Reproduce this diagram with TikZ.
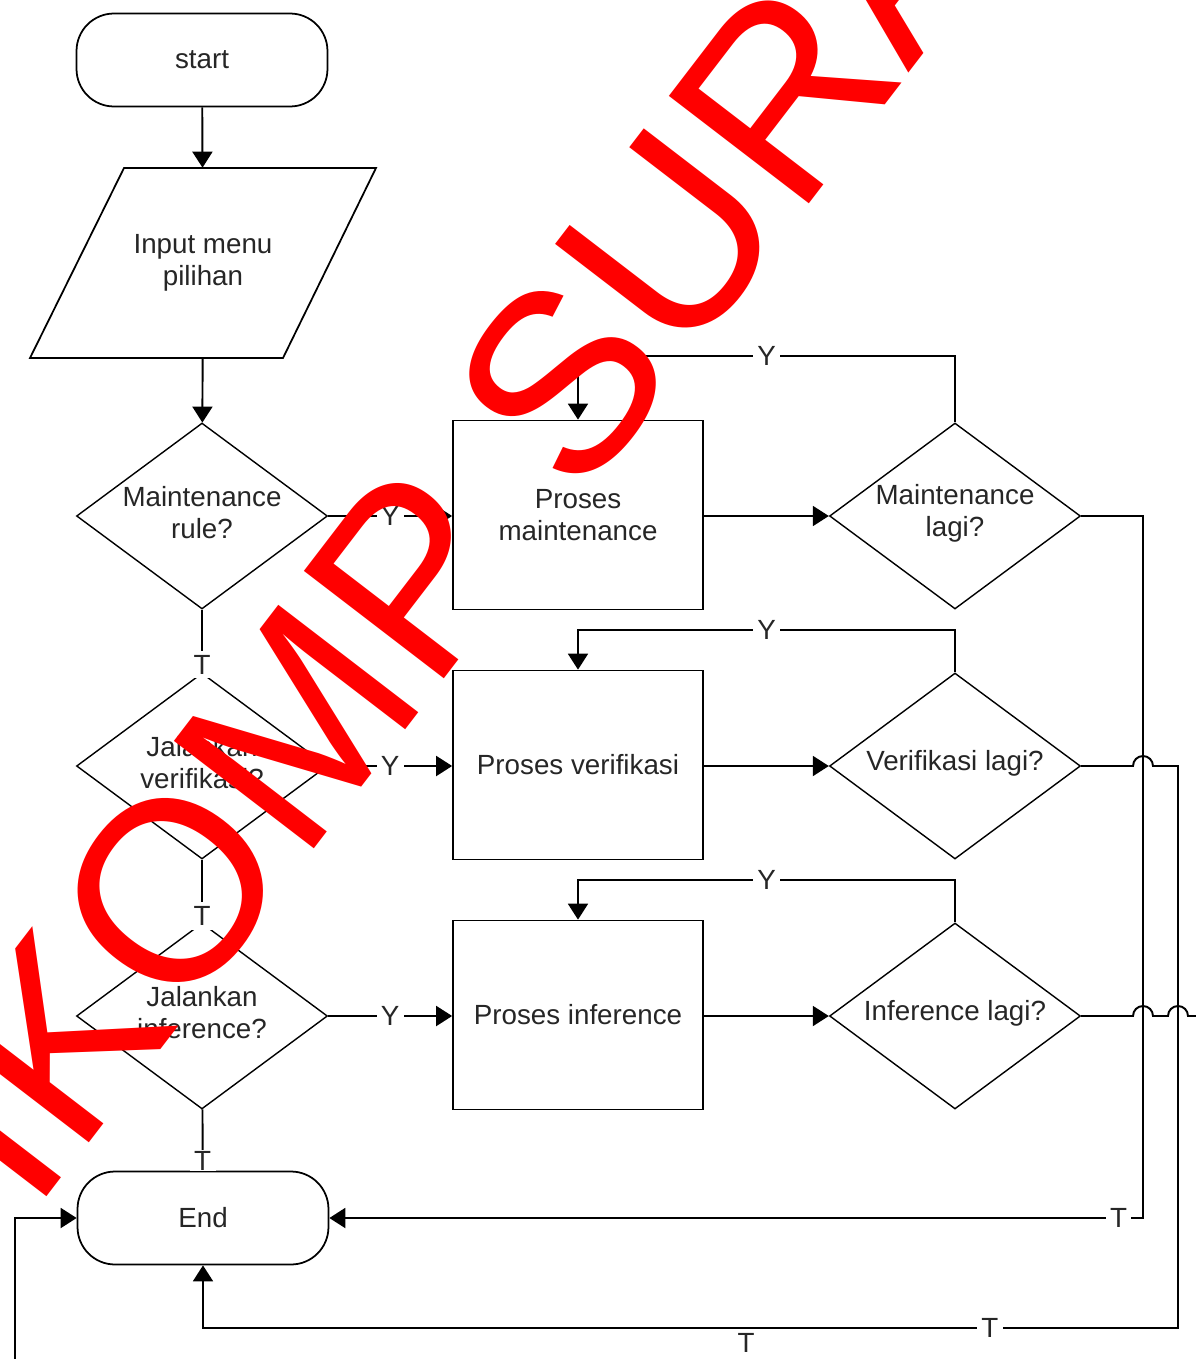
\documentclass[tikz,border=0pt]{standalone}
\usepackage{fontspec}
\setmainfont{Liberation Sans}
\newfontfamily\wmfont{Liberation Sans}
\usetikzlibrary{arrows.meta,shapes.geometric,calc}
\begin{document}
\begin{tikzpicture}[x=0.02cm,y=-0.02cm,
  font=\fontsize{15.8}{18.2}\selectfont,
  txt/.style={text=black!85},
  term/.style={txt, draw, line width=1pt, rounded corners=0.75cm, minimum width=5.02cm, minimum height=1.86cm, inner sep=0pt},
  proc/.style={txt, draw, line width=1pt, minimum width=5cm, minimum height=3.78cm, inner sep=0pt, align=center},
  dec/.style={diamond, draw, line width=0.8pt, minimum width=5.02cm, minimum height=3.72cm, inner sep=0pt},
  dectext/.style={label={[txt, align=center, yshift=0.06cm]center:#1}},
  lbl/.style={txt, fill=white, inner sep=2.5pt},
  conn/.style={line width=1.1pt},
  arr/.style={conn, -{Triangle[width=0.4cm,length=0.32cm]}},
]
\useasboundingbox (0,0) rectangle (1196,1359);
\clip (0,0) rectangle (1196,1359);

% main column
\node[term] (start) at (202,60) {start};
\node[txt, minimum width=4cm, minimum height=3.8cm, inner sep=0pt, align=center] (inp) at (203,263) {Input menu\\pilihan};
\draw[line width=1pt] (124,168) -- (376,168) -- (283,358) -- (30,358) -- cycle;
\node[dec, dectext={Maintenance\\rule?}] (d1) at (202,516) {};
\node[dec, dectext={Jalankan\\verifikasi?}] (d2) at (202,766) {};
\node[dec, dectext={Jalankan\\inference?}] (d3) at (202,1016) {};
\node[term] (end) at (203,1218) {End};

% process boxes
\node[proc] (p1) at (578,515) {Proses\\maintenance};
\node[proc] (p2) at (578,765) {Proses verifikasi};
\node[proc] (p3) at (578,1015) {Proses inference};

% repeat decisions
\node[dec, dectext={Maintenance\\lagi?}] (q1) at (955,516) {};
\node[dec, dectext={Verifikasi lagi?}] (q2) at (955,766) {};
\node[dec, dectext={Inference lagi?}] (q3) at (955,1016) {};

% main flow
\draw[arr] (start) -- (inp);
\draw[arr] (inp) -- (d1);
\draw[conn] (d1) -- node[lbl, pos=0.875] {T} (d2);
\draw[conn] (d2) -- node[lbl, pos=0.9] {T} (d3);
\draw[conn] (d3) -- node[lbl, inner ysep=0.5pt, pos=0.84] {T} (end);

% yes branches
\draw[arr] (d1.east) -- node[lbl] {Y} (d1.east -| p1.west);
\draw[arr] (d2.east) -- node[lbl] {Y} (d2.east -| p2.west);
\draw[arr] (d3.east) -- node[lbl] {Y} (d3.east -| p3.west);

\draw[arr] (q1.west -| p1.east) -- (q1.west);
\draw[arr] (q2.west -| p2.east) -- (q2.west);
\draw[arr] (q3.west -| p3.east) -- (q3.west);

% loops back
\draw[arr] (q1.north) -- ++(0,-66) -| node[lbl, pos=0.25] {Y} (p1.north);
\draw[arr] (q2.north) -- ++(0,-42) -| node[lbl, pos=0.25] {Y} (p2.north);
\draw[arr] (q3.north) -- ++(0,-42) -| node[lbl, pos=0.25] {Y} (p3.north);

% exits to End
\coordinate (b1) at (1143,1218);
\coordinate (b2) at (1178,1328);
\coordinate (b3) at (1240,1400);
\coordinate (b4) at (15,1400);

\draw[arr] (q1.east) -| (b1) -- node[lbl, pos=0.03] {T} (end.east);
\draw[arr] (q2.east) -- (1133,766) arc[start angle=180, end angle=360, radius=10]
   -- (1178,766) -- (b2) -- node[lbl, pos=0.193] {T} (end.south |- b2) -- (end.south);
\draw[arr] (q3.east) -- (1133,1016) arc[start angle=180, end angle=360, radius=10]
   -- (1168,1016) arc[start angle=180, end angle=360, radius=10]
   -- (b3 |- q3.east) -- (b3) -- (b4) -- (b4 |- end.west) -- (end.west);
\node[lbl] (t3) at (746,1343) {T};

% watermark
\node[rotate=52.5, text=red, font=\wmfont\fontsize{146}{146}\selectfont, inner sep=0pt] (wm) at (453,523) {IKOMP SURA};
\end{tikzpicture}
\end{document}
